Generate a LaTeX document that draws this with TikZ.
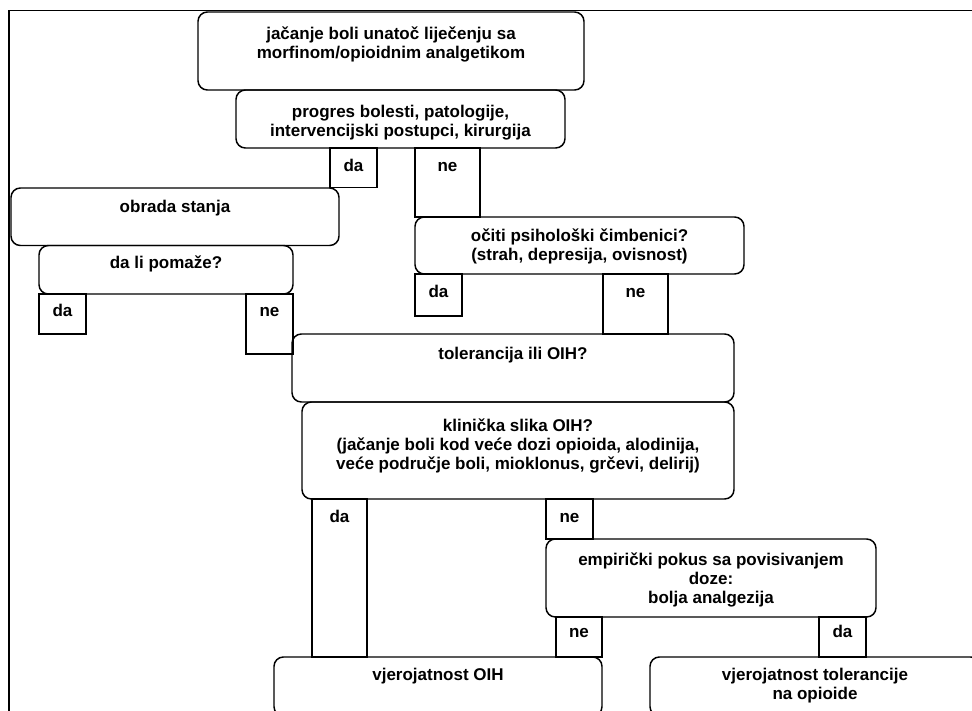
\documentclass[tikz,border=0pt]{standalone}
\usepackage{fontspec}
\setmainfont{Liberation Sans}
\usetikzlibrary{fit}
\newcommand\mlines[1]{\vtop{\halign{\hfil##\hfil\cr#1\crcr}}}
\tikzset{
  rbox/.style={draw, line width=1.1pt, rounded corners=7pt, inner sep=0pt},
  sbox/.style={draw, line width=1.1pt, inner sep=0pt},
  lbl/.style={anchor=base, inner sep=0pt, font=\bfseries\fontsize{12.75}{14.4}\selectfont},
  frame/.style={draw, line width=1.3pt},
}
\begin{document}
\begin{tikzpicture}[x=0.75pt, y=-0.75pt]
\useasboundingbox (0,0) rectangle (972,711);
\clip (0,0) rectangle (972,711);
% outer frame
\draw[frame] (9,720) -- (9,10.5) -- (985,10.5);
% rounded boxes
\node[rbox, fit={(198,12) (584,90)}] (b1) {};
\node[rbox, fit={(236,90) (565,148)}] (b2) {};
\node[rbox, fit={(11,188) (339,245.5)}] (obr) {};
\node[rbox, fit={(39,245.5) (293,294)}] (pom) {};
\node[rbox, fit={(415,217) (744,274)}] (oci) {};
\node[rbox, fit={(292,334) (734,402)}] (tol) {};
\node[rbox, fit={(302,402) (734,499)}] (kli) {};
\node[rbox, fit={(546,539) (876,617)}] (emp) {};
\node[rbox, fit={(274,657) (602,716)}] (voih) {};
\node[rbox, fit={(650,657) (980,716)}] (vtol) {};
% square answer boxes
\node[sbox, fit={(330,148) (377,187.5)}] (da1) {};
\node[sbox, fit={(415,148) (480,217)}] (ne1) {};
\node[sbox, fit={(39,294) (86,334)}] (da2) {};
\node[sbox, fit={(246,294) (293,354)}] (ne2) {};
\node[sbox, fit={(415,274) (462,316)}] (da3) {};
\node[sbox, fit={(603,274) (668,334)}] (ne3) {};
\node[sbox, fit={(312,499) (367,657)}] (da4) {};
\node[sbox, fit={(546,499) (593,539)}] (ne4) {};
\node[sbox, fit={(556,617) (602,657)}] (ne5) {};
\node[sbox, fit={(819,617) (866,657)}] (da5) {};
% texts
\node[lbl] (tb1) at (391,39) {\mlines{jačanje boli unatoč liječenju sa\cr morfinom/opioidnim analgetikom}};
\node[lbl] (tb2) at (400.5,117) {\mlines{progres bolesti, patologije,\cr intervencijski postupci, kirurgija}};
\node[lbl] (tda1) at (353.5,171) {da};
\node[lbl] (tne1) at (447.5,171) {ne};
\node[lbl] (tobr) at (175,212) {obrada stanja};
\node[lbl] (tpom) at (166,268) {da li pomaže?};
\node[lbl] (tda2) at (62.5,316.5) {da};
\node[lbl] (tne2) at (269.5,316.5) {ne};
\node[lbl] (toci) at (579.5,241) {\mlines{očiti psihološki čimbenici?\cr (strah, depresija, ovisnost)}};
\node[lbl] (tda3) at (438.5,297) {da};
\node[lbl] (tne3) at (635.5,297) {ne};
\node[lbl] (ttol) at (513,359) {tolerancija ili OIH?};
\node[lbl] (tkli) at (518,431) {\mlines{klinička slika OIH?\cr (jačanje boli kod veće dozi opioida, alodinija,\cr veće područje boli, mioklonus, grčevi, delirij)}};
\node[lbl] (tda4) at (339.5,522) {da};
\node[lbl] (tne4) at (569.5,522) {ne};
\node[lbl] (temp) at (711,565) {\mlines{empirički pokus sa povisivanjem\cr doze:\cr bolja analgezija}};
\node[lbl] (tne5) at (579,637) {ne};
\node[lbl] (tda5) at (842.5,637) {da};
\node[lbl] (tvoih) at (438,680) {vjerojatnost OIH};
\node[lbl] (tvtol) at (815,680) {\mlines{vjerojatnost tolerancije\cr na opioide}};
\end{tikzpicture}
\end{document}
